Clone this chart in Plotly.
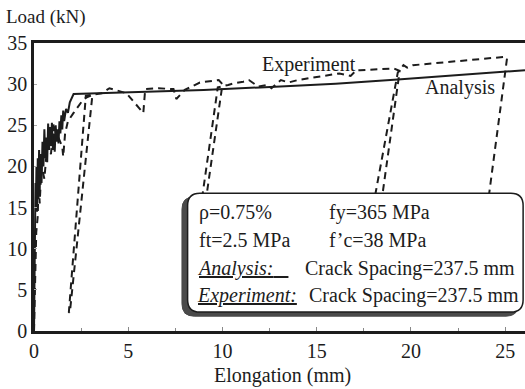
import plotly.graph_objects as go

# ---------------- data ----------------
analysis_x = [0, 0.02, 0.05, 0.08, 0.10, 0.13, 0.16, 0.20, 0.23, 0.27, 0.30, 0.35, 0.40, 0.45,
              0.50, 0.55, 0.60, 0.65, 0.70, 0.75, 0.80, 0.85, 0.90, 0.95, 1.00, 1.05, 1.10,
              1.15, 1.20, 1.25, 1.30, 1.35, 1.40, 1.45, 1.50, 1.55, 1.60, 1.70, 1.80, 1.90,
              2.10, 5.0, 9.0, 12.0, 16.0, 19.3, 23.0, 26.05]
analysis_y = [0, 8, 14, 18, 15, 20, 14.5, 21, 16, 22, 17, 21.5, 18, 23,
              20, 24.5, 21, 23.5, 20.5, 25.2, 22, 24.8, 22.5, 25.3, 22, 24, 21.8,
              25, 23, 24.5, 22.8, 25.5, 24, 26.2, 24.5, 26.8, 25.5, 27, 26.5, 27.8,
              28.8, 29.0, 29.3, 29.6, 30.05, 30.55, 31.15, 31.7]

experiment_x = [0, 0.05, 0.12, 0.20, 0.25, 0.30, 0.40, 0.55, 0.70, 0.90, 1.05, 1.15, 1.30,
                1.50, 1.55, 1.65, 1.80, 2.10, 2.30, 2.60, 2.80, 3.10,
                1.90, 1.85, 2.75,
                3.2, 3.6, 4.0, 4.9, 5.8, 5.9, 6.6, 7.4, 7.55, 8.0, 8.8, 9.8, 10.0,
                8.25, 8.05, 9.75,
                10.3, 10.6, 11.1, 11.4, 11.9, 12.4, 12.6, 13.1, 13.5, 14.0, 16.2, 16.8, 17.1, 17.3, 19.1, 19.4,
                17.6, 16.95, 19.3,
                19.6, 19.8, 20.1, 24.9, 25.1,
                23.3]
experiment_y = [0, 6, 12, 14, 19, 15.5, 20, 18.5, 22.5, 21.5, 25.3, 24, 23.5,
                22.4, 21.2, 24, 25.5, 26.5, 27.2, 28.1, 28.4, 28.7,
                2.2, 2.3, 28.6,
                28.8, 28.9, 29.5, 28.9, 26.5, 29.4, 29.5, 29.4, 28.2, 29.3, 30.2, 30.5, 30.0,
                2.0, 2.2, 29.6,
                29.9, 30.1, 30.3, 30.5, 29.7, 29.9, 29.5, 30.5, 30.2, 30.5, 31.3, 31.0, 31.7, 31.7, 31.9, 31.6,
                2.0, 2.2, 31.4,
                32.3, 32.0, 32.3, 33.3, 33.2,
                2.0]

x_ticks = [0, 5, 10, 15, 20, 25]
y_ticks = [0, 5, 10, 15, 20, 25, 30, 35]

FONT = "Liberation Serif"
INK = "#1c1c1c"

fig = go.Figure()
fig.add_trace(go.Scatter(x=analysis_x, y=analysis_y, mode="lines",
                         line=dict(color=INK, width=2), showlegend=False))
fig.add_trace(go.Scatter(x=experiment_x, y=experiment_y, mode="lines",
                         line=dict(color=INK, width=2, dash="7px,5px"), showlegend=False))


def rounded(x0, y0, x1, y1, rx, ry):
    return (f"M {x0+rx},{y0} L {x1-rx},{y0} Q {x1},{y0} {x1},{y0+ry} "
            f"L {x1},{y1-ry} Q {x1},{y1} {x1-rx},{y1} L {x0+rx},{y1} "
            f"Q {x0},{y1} {x0},{y1-ry} L {x0},{y0+ry} Q {x0},{y0} {x0+rx},{y0} Z")


# info box (shadow + box)
fig.add_shape(type="path", xref="x", yref="y",
              path=rounded(7.85, 1.8, 25.7, 16.3, 0.65, 1.5),
              fillcolor="#4a4a4a", line=dict(color="#4a4a4a", width=1), layer="above")
fig.add_shape(type="path", xref="x", yref="y",
              path=rounded(8.15, 2.3, 25.95, 16.75, 0.65, 1.5),
              fillcolor="white", line=dict(color=INK, width=1.5), layer="above")

anns = [
    ("ρ=0.75%", 8.65, 14.45),
    ("fy=365 MPa", 15.55, 14.45),
    ("ft=2.5 MPa", 8.65, 11.1),
    ("f’c=38 MPa", 15.55, 11.1),
    ("<u><i>Analysis:</i>&nbsp;&nbsp;&nbsp;</u>", 8.55, 7.65),
    ("Crack Spacing=237.5 mm", 14.27, 7.65),
    ("<u><i>Experiment:</i></u>", 8.55, 4.3),
    ("Crack Spacing=237.5 mm", 14.5, 4.3),
    ("Experiment", 14.6, 32.4),
    ("Analysis", 22.6, 29.6),
]
for txt, ax, ay in anns:
    fig.add_annotation(text=txt, x=ax, y=ay, xref="x", yref="y", showarrow=False,
                       xanchor="center" if txt in ("Experiment", "Analysis") else "left",
                       yanchor="middle", font=dict(family=FONT, size=20, color=INK))

fig.add_annotation(text="Load (kN)", xref="paper", yref="paper", x=-0.061, y=1.09,
                   xanchor="left", yanchor="middle", showarrow=False,
                   font=dict(family=FONT, size=19, color=INK))
fig.add_annotation(text="Elongation (mm)", xref="paper", yref="paper", x=0.507, y=-0.153,
                   xanchor="center", yanchor="middle", showarrow=False,
                   font=dict(family=FONT, size=20, color=INK))

fig.update_xaxes(range=[0, 26.05], tickvals=x_ticks, ticktext=[str(v) for v in x_ticks],
                 showgrid=False, zeroline=False, showline=True, linecolor=INK, linewidth=2.5,
                 mirror=True, ticks="inside", ticklen=4, tickcolor="#888", tickwidth=1,
                 minor=dict(dtick=2.5, ticks="inside", ticklen=3, tickcolor="#888"),
                 tickfont=dict(family=FONT, size=20, color=INK))
fig.update_yaxes(range=[0, 35], tickvals=y_ticks, ticktext=[str(v) for v in y_ticks],
                 showgrid=False, zeroline=False, showline=True, linecolor=INK, linewidth=2.5,
                 ticks="inside", ticklen=3, tickcolor="#aaa", tickwidth=1,
                 tickfont=dict(family=FONT, size=20, color=INK))

fig.update_layout(width=525, height=389, margin=dict(l=34, r=0, t=43, b=58),
                  plot_bgcolor="white", paper_bgcolor="white")

fig.write_html("out.html")
